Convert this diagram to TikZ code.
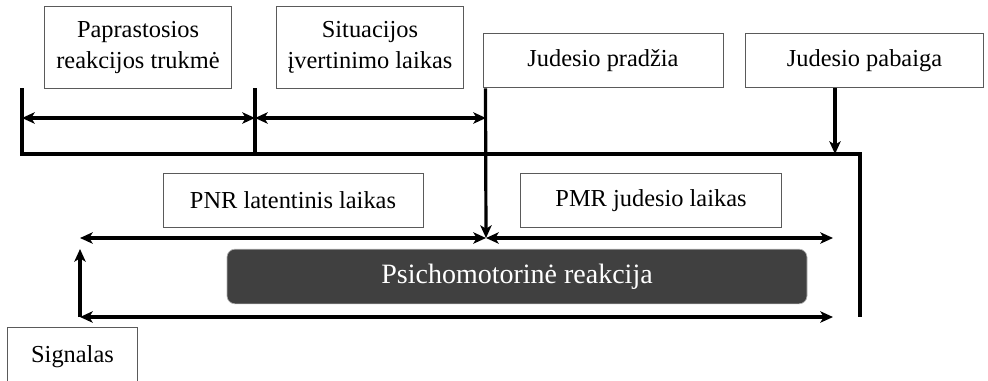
\documentclass[tikz,border=0pt]{standalone}
\usepackage{fontspec}
\setmainfont{Liberation Serif}
\usetikzlibrary{positioning, calc, arrows.meta}
\definecolor{boxgray}{RGB}{90,90,90}
\definecolor{darkfill}{RGB}{64,64,64}

\begin{document}
\begin{tikzpicture}[
        x=0.75pt, y=-0.75pt,
        lbl/.style={rectangle, draw=boxgray, line width=0.75pt, fill=white, align=center, inner sep=0pt, font=\fontsize{18.3}{23}\selectfont},
        main/.style={rectangle, rounded corners=6pt, draw=gray!60, line width=0.5pt, fill=darkfill, text=white, inner sep=0pt, font=\fontsize{21}{25}\selectfont},
        bar/.style={line width=2.4pt},
        arrow/.style={-{Stealth[length=9.5pt, width=8.5pt, inset=2.5pt]}, line width=2.4pt},
        bidir/.style={{Stealth[length=9.5pt, width=8.5pt, inset=2.5pt]}-{Stealth[length=9.5pt, width=8.5pt, inset=2.5pt]}, line width=2.4pt},
    ]
    \useasboundingbox (0,0) rectangle (988,380);

    % ===== Top labels =====
    \node[lbl, minimum width=140pt, minimum height=61pt] (PRT) at (138,47.5) {Paprastosios\\reakcijos trukmė};
    \node[lbl, minimum width=140pt, minimum height=61pt] (SIL) at (370,47.5) {Situacijos\\įvertinimo laikas};
    \node[lbl, minimum width=180pt, minimum height=41pt] (JPR) at (603,60.5) {Judesio pradžia};
    \node[lbl, minimum width=179pt, minimum height=41pt] (JPB) at (864.5,60.5) {Judesio pabaiga};

    % ===== Middle labels =====
    \node[lbl, minimum width=195pt, minimum height=41pt] (PNR) at (293,200.5) {PNR latentinis laikas};
    \node[lbl, minimum width=196pt, minimum height=41pt] (PMR) at (651,200.5) {PMR judesio laikas};
    \node[main, minimum width=435pt, minimum height=41pt] (PSR) at (517,276.5) {Psichomotorinė reakcija};
    \node[lbl, minimum width=98pt, minimum height=45pt] (SIG) at (72.5,357) {Signalas};

    % ===== Time marks =====
    \coordinate (L0) at (22,88);
    \coordinate (L1) at (255,88);
    \coordinate (L2) at ([xshift=2.25pt]JPR.south west);
    \coordinate (B0) at (22,154);
    \coordinate (B1) at (255,154);
    \coordinate (BR) at (860,154);
    \coordinate (BE) at (860,317);
    \coordinate (E1) at (835,88);
    \coordinate (E2) at (835,154);
    \coordinate (M0) at (80,238);
    \coordinate (M1) at (486,238);
    \coordinate (M2) at (833,238);
    \coordinate (S0) at (80,317);
    \coordinate (S1) at (833,317);
    \coordinate (S2) at (80,249);

    \draw[bar] (L0) -- (B0) -- (BR) -- (BE);
    \draw[bar] (L1) -- (B1);
    \draw[arrow] (L2) -- (M1);
    \draw[arrow] (E1) -- (E2);

    % ===== Intervals =====
    \draw[bidir] (L0 |- 0,118) -- (L1 |- 0,118);
    \draw[bidir] (L1 |- 0,118) -- (M1 |- 0,118);
    \draw[bidir] (M0) -- (M1);
    \draw[bidir] (M1) -- (M2);
    \draw[bidir] (S0) -- (S1);
    \draw[arrow] (S0) -- (S2);

\end{tikzpicture}
\end{document}
